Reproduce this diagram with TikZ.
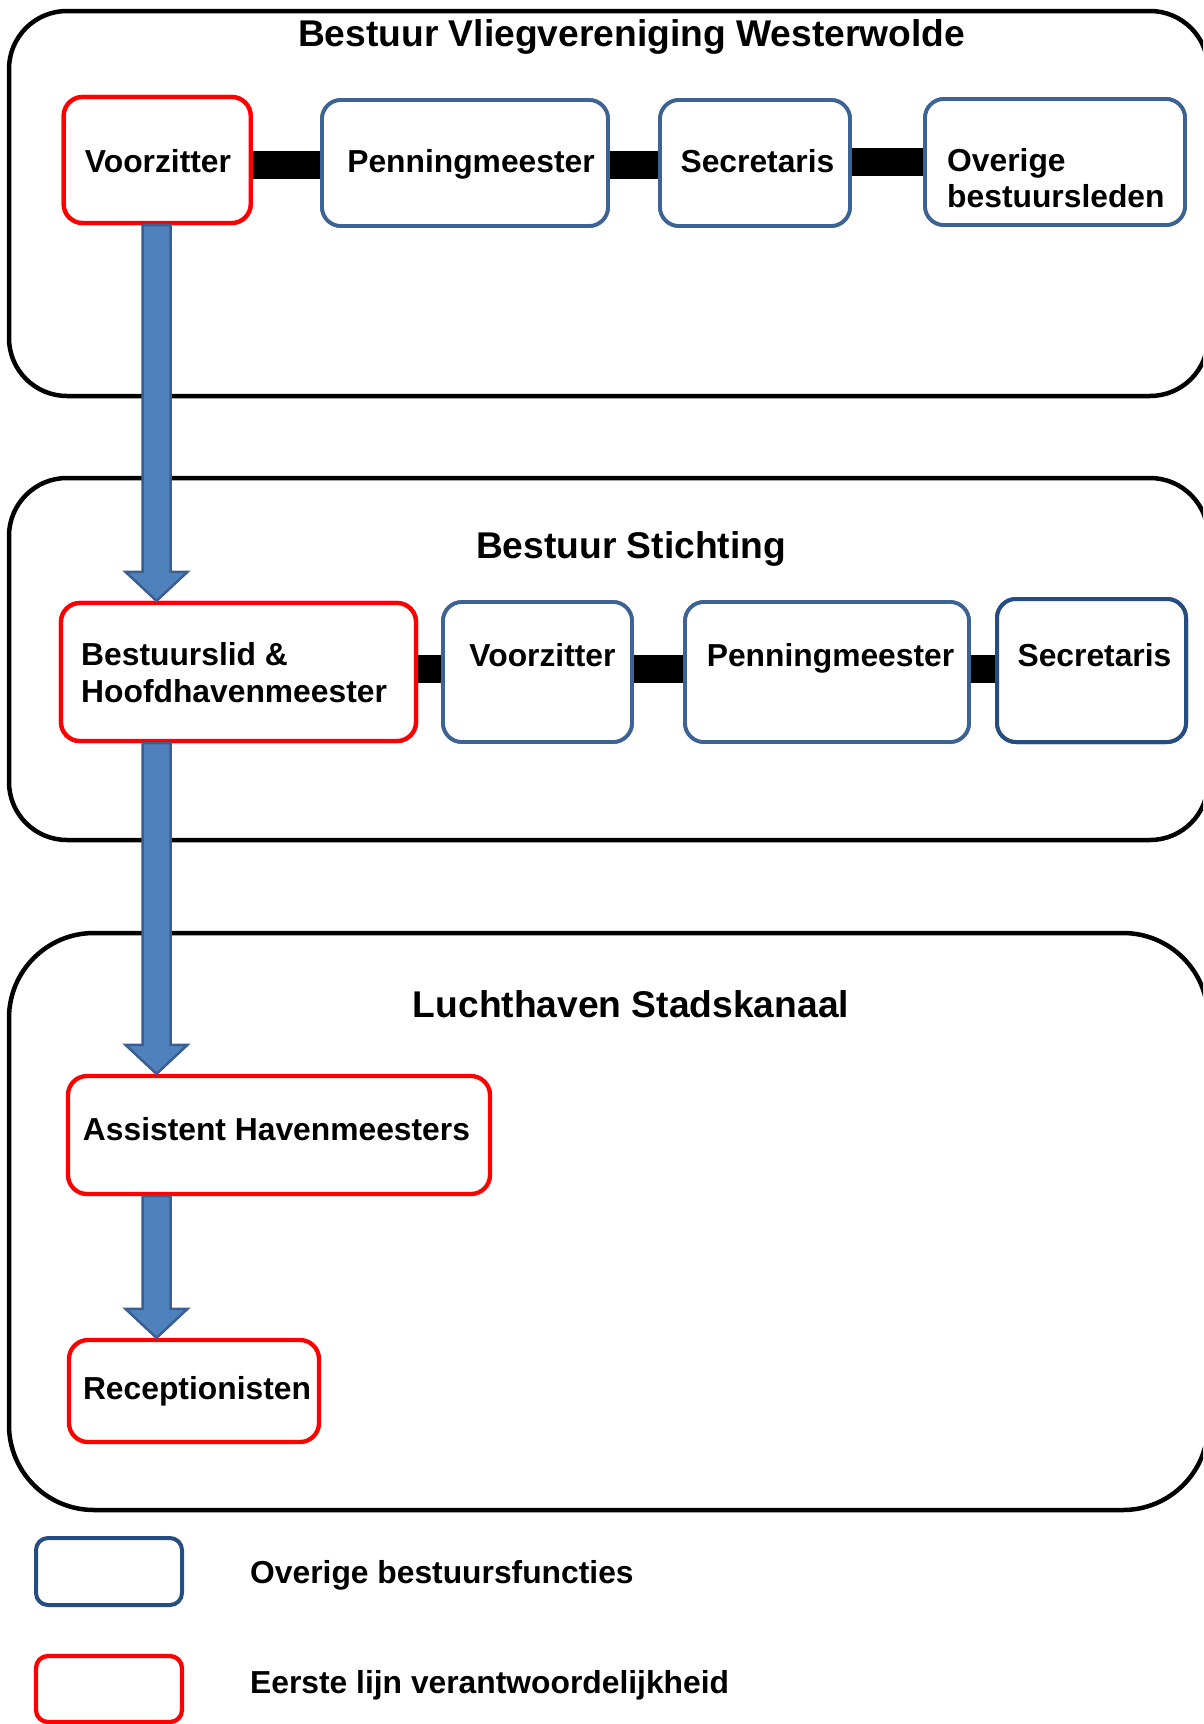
\documentclass[tikz,border=0pt]{standalone}
\usepackage{fontspec}
\setmainfont{Liberation Sans}
\usetikzlibrary{calc}
\definecolor{boxred}{HTML}{FF0000}
\definecolor{boxblue}{HTML}{3C6394}
\definecolor{boxbluedark}{HTML}{254D82}
\definecolor{arrfill}{HTML}{4F81BD}
\definecolor{arrline}{HTML}{3A5F8E}
\newcommand{\myarrow}[2]{%
  \draw[arrowst] let \p1=(#1), \p2=(#2) in
    (\x1-14pt,\y1) -- (\x1+14pt,\y1) -- (\x1+14pt,\y2+29pt) -- (\x1+31pt,\y2+29pt)
    -- (\x1,\y2) -- (\x1-31pt,\y2+29pt) -- (\x1-14pt,\y2+29pt) -- cycle;}
\begin{document}
\begin{tikzpicture}[x=1pt,y=-1pt,
  outerbox/.style={draw=black, line width=4.5pt, rectangle, inner sep=0pt},
  redbox/.style={draw=boxred, fill=white, line width=4.3pt, rectangle, rounded corners=19pt, inner sep=0pt},
  bluebox/.style={draw=boxblue, fill=white, line width=3.8pt, rectangle, rounded corners=19pt, inner sep=0pt},
  bluedarkbox/.style={draw=boxbluedark, fill=white, line width=4pt, rectangle, rounded corners=19pt, inner sep=0pt},
  bar/.style={draw=black, line width=28pt},
  arrowst/.style={fill=arrfill, draw=arrline, line width=2.5pt, line join=miter},
  txt/.style={inner sep=0pt, font=\fontsize{31.8pt}{36pt}\selectfont\bfseries},
  ttl/.style={inner sep=0pt, anchor=base, font=\fontsize{37.2pt}{42pt}\selectfont\bfseries}
]
\useasboundingbox (0,0) rectangle (1203,1724);
\clip (0,0) rectangle (1203,1724);
\fill[white] (0,0) rectangle (1203,1724);

% outer groups
\node[outerbox, rounded corners=58pt, minimum width=1199pt, minimum height=385pt] (g1) at (608.5,203.5) {};
\node[outerbox, rounded corners=58pt, minimum width=1199pt, minimum height=362pt] (g2) at (608.5,659) {};
\node[outerbox, rounded corners=85pt, minimum width=1199pt, minimum height=577pt] (g3) at (608.5,1221.5) {};

\node[ttl] (t1) at (631.5,46) {Bestuur Vliegvereniging Westerwolde};
\node[ttl] (t2) at (631,558.5) {Bestuur Stichting};
\node[ttl] (t3) at (631,1017) {Luchthaven Stadskanaal};

% helper coordinates
\coordinate (r1) at (0,164.5);
\coordinate (r1b) at (0,162);
\coordinate (r2) at (0,669);
\coordinate (col) at (156.5,0);

% boxes
\path
  node[redbox, minimum width=187pt, minimum height=126pt] (v1) at (157.2,160) {}
  node[bluebox, minimum width=286pt, minimum height=126pt] (p1) at (465,163) {}
  node[bluebox, minimum width=190pt, minimum height=126pt] (s1) at (755,163) {}
  node[bluebox, minimum width=260pt, minimum height=126pt] (ob1) at (1055,162) {}
  node[redbox, minimum width=355pt, minimum height=138pt] (b2) at (238.5,672) {}
  node[bluebox, minimum width=189pt, minimum height=140pt] (v2) at (537.5,672) {}
  node[bluebox, minimum width=284pt, minimum height=140pt] (p2) at (827,672) {}
  node[bluedarkbox, minimum width=189pt, minimum height=143pt] (s2) at (1091.5,670.5) {}
  node[redbox, minimum width=422pt, minimum height=118pt] (a3) at (279,1135) {}
  node[redbox, minimum width=250pt, minimum height=102pt] (r3) at (194,1391) {};

% bars
\draw[bar] (v1.east |- r1) -- (p1.west |- r1);
\draw[bar] (p1.east |- r1) -- (s1.west |- r1);
\draw[bar] (s1.east |- r1b) -- (ob1.west |- r1b);
\draw[bar] (b2.east |- r2) -- (v2.west |- r2);
\draw[bar] (v2.east |- r2) -- (p2.west |- r2);
\draw[bar] (p2.east |- r2) -- (s2.west |- r2);

% redraw box borders on top of bars
\node[redbox, minimum width=187pt, minimum height=126pt] at (v1) {};
\node[bluebox, minimum width=286pt, minimum height=126pt] at (p1) {};
\node[bluebox, minimum width=190pt, minimum height=126pt] at (s1) {};
\node[bluebox, minimum width=260pt, minimum height=126pt] at (ob1) {};
\node[redbox, minimum width=355pt, minimum height=138pt] at (b2) {};
\node[bluebox, minimum width=189pt, minimum height=140pt] at (v2) {};
\node[bluebox, minimum width=284pt, minimum height=140pt] at (p2) {};
\node[bluedarkbox, minimum width=189pt, minimum height=143pt] at (s2) {};

% texts
\node[txt, anchor=base] (v1t) at (158,172) {Voorzitter};
\node[txt, anchor=base] (p1t) at (471,172) {Penningmeester};
\node[txt, anchor=base] (s1t) at (757.5,172) {Secretaris};
\node[txt, anchor=base west] (ob1a) at (947,171) {Overige};
\node[txt, anchor=base west] (ob1b) at (947,207) {bestuursleden};
\node[txt, anchor=base west] (b2a) at (81,665) {Bestuurslid \&};
\node[txt, anchor=base west] (b2b) at (81,702) {Hoofdhavenmeester};
\node[txt, anchor=base] (v2t) at (542.5,666) {Voorzitter};
\node[txt, anchor=base] (p2t) at (830.5,666) {Penningmeester};
\node[txt, anchor=base] (s2t) at (1094.5,666) {Secretaris};
\node[txt, anchor=base] (a3t) at (276.5,1140) {Assistent Havenmeesters};
\node[txt, anchor=base] (r3t) at (197,1399) {Receptionisten};

% arrows
\myarrow{col |- v1.south}{col |- b2.north}
\myarrow{col |- b2.south}{col |- a3.north}
\myarrow{col |- a3.south}{col |- r3.north}

% legend
\node[bluedarkbox, rounded corners=12pt, minimum width=146pt, minimum height=67pt] (lg1) at (109,1571.5) {};
\node[redbox, rounded corners=12pt, minimum width=146pt, minimum height=66pt] (lg2) at (109,1689) {};
\node[txt, anchor=base west] (lg1t) at (250,1583) {Overige bestuursfuncties};
\node[txt, anchor=base west] (lg2t) at (250,1693) {Eerste lijn verantwoordelijkheid};
\end{tikzpicture}
\end{document}
